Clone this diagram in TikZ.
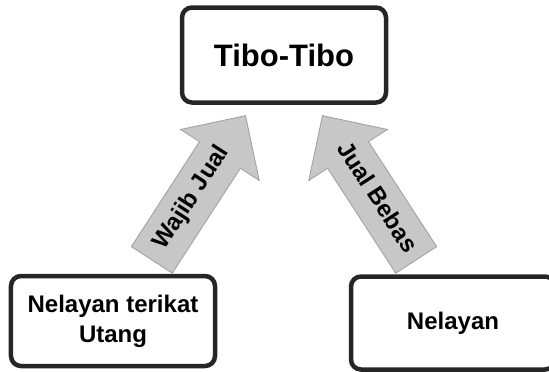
\documentclass[tikz,border=0pt]{standalone}
\usepackage{fontspec}
\setmainfont{Liberation Sans}
\usetikzlibrary{shapes.arrows}

\tikzset{
  box/.style={draw=black!85, line width=4.5bp, rounded corners=10bp,
    fill=white, minimum width=204bp, align=center,
    font=\bfseries\fontsize{24bp}{30bp}\selectfont},
  flow/.style={single arrow, draw=black!38, line width=0.8bp, fill=black!22,
    minimum height=172bp, single arrow head extend=22.5bp,
    single arrow tip angle=90, inner xsep=4bp, inner ysep=13bp,
    text height=17bp, text depth=5bp,
    font=\bfseries\fontsize{24bp}{28bp}\selectfont},
}

\begin{document}
\begin{tikzpicture}[x=1bp, y=-1bp]
  \useasboundingbox (0,0) rectangle (549,371);

  % buying direction arrows (drawn first, boxes sit on top)
  \node[flow, rotate=57] (wajib) at (192,198) {Wajib Jual};
  \node[flow, rotate=-57, shape border rotate=180] (bebas) at (376,198) {Jual Bebas};

  % trader and fishermen boxes
  \node[box, minimum height=95bp, font=\bfseries\fontsize{31bp}{37bp}\selectfont]
    (tibo) at (284,55) {Tibo-Tibo};
  \node[box, minimum height=90bp] (terikat) at (113,321) {Nelayan terikat\\Utang};
  \node[box, minimum height=93bp] (bebasbox) at (453,323) {Nelayan};
\end{tikzpicture}
\end{document}
